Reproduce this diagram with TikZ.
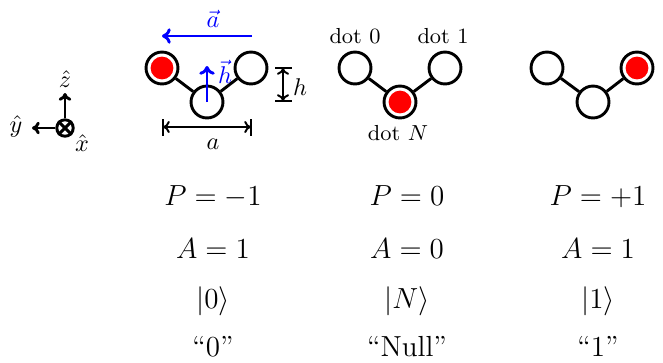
\documentclass[tikz,border=0pt]{standalone}
\usetikzlibrary{arrows.meta}
\begin{document}
\begin{tikzpicture}[x=0.4132pt,y=-0.4132pt,
  qdot/.style={circle,draw=black,line width=1.2pt,minimum size=13.2pt,inner sep=0pt},
  elec/.style={circle,fill=red,minimum size=9.4pt,inner sep=0pt},
  bond/.style={line width=1.2pt},
  vecarrow/.style={blue,line width=1.2pt,-{To[length=3.6pt,width=6.4pt]}},
  axarrow/.style={black,line width=1.2pt,-{To[length=3.2pt,width=5.2pt]}},
  dimline/.style={line width=0.8pt},
  dimarrow/.style={line width=0.8pt,{To[length=2.8pt,width=5pt]}-{To[length=2.8pt,width=5pt]}},
  lbl/.style={font=\small,inner sep=0pt},
  mlbl/.style={font=\normalsize,inner sep=0pt},
  row/.style={font=\large,anchor=base,inner sep=0pt}]
\useasboundingbox (0,0) rectangle (663,362);

% axes
\node[circle,draw,line width=1.2pt,minimum size=6.8pt,inner sep=0pt] (ox) at (65,128) {};
\draw[line width=1.2pt] (ox.45) -- (ox.225) (ox.135) -- (ox.315);
\coordinate (zt) at (65,93);
\coordinate (yt) at (32,128);
\draw[axarrow] (ox.north) -- (zt);
\draw[axarrow] (ox.west) -- (yt);
\node[mlbl] (zl) at (65,79) {$\hat z$};
\node[mlbl] (yl) at (16,126) {$\hat y$};
\node[mlbl] (xl) at (82,143) {$\hat x$};

% left molecule
\node[qdot] (L1) at (162,68) {};
\node[qdot] (B1) at (207,102) {};
\node[qdot] (R1) at (251,68) {};
\node[elec] (e1) at (L1.center) {};
\draw[bond] (L1) -- (B1) (B1) -- (R1);
\coordinate (a0) at (252,36);
\coordinate (a1) at (162,36);
\draw[vecarrow] (a0) -- (a1);
\node[mlbl,blue] (al) at (213,19) {$\vec a$};
\coordinate (ht) at (207,66);
\draw[vecarrow] (B1.center) -- (ht);
\node[mlbl,blue] (hl) at (225,72) {$\vec h$};
% h dimension
\coordinate (h0) at (283,68);
\coordinate (h1) at (283,101);
\draw[dimline] (275,68) -- (292,68) (275,101) -- (292,101);
\draw[dimarrow] (h0) -- (h1);
\node[mlbl] (hd) at (300,87) {$h$};
% a dimension
\coordinate (d0) at (163,127);
\coordinate (d1) at (251,127);
\draw[dimline] (163,119) -- (163,136) (251,119) -- (251,136);
\draw[dimarrow] (d0) -- (d1);
\node[mlbl] (ad) at (213,144) {$a$};

% middle molecule
\node[qdot] (L2) at (355,68) {};
\node[qdot] (B2) at (400,102) {};
\node[qdot] (R2) at (445,68) {};
\node[elec] (e2) at (B2.center) {};
\draw[bond] (L2) -- (B2) (B2) -- (R2);
\node[lbl] (d0l) at (355,36) {dot 0};
\node[lbl] (d1l) at (443,36) {dot 1};
\node[lbl] (dNl) at (398,133) {dot $N$};

% right molecule
\node[qdot] (L3) at (547,68) {};
\node[qdot] (B3) at (593,102) {};
\node[qdot] (R3) at (637,68) {};
\node[elec] (e3) at (R3.center) {};
\draw[bond] (L3) -- (B3) (B3) -- (R3);

% text rows
\node[row] (p1) at (213,205) {$P=-1$};
\node[row] (p2) at (407,205) {$P=0$};
\node[row] (p3) at (598,205) {$P=+1$};
\node[row] (q1) at (213,258) {$A=1$};
\node[row] (q2) at (407,258) {$A=0$};
\node[row] (q3) at (598,258) {$A=1$};
\node[row] (k1) at (213,308) {$|0\rangle$};
\node[row] (k2) at (407,308) {$|N\rangle$};
\node[row] (k3) at (598,308) {$|1\rangle$};
\node[row] (n1) at (213,356) {``0''};
\node[row] (n2) at (407,356) {``Null''};
\node[row] (n3) at (598,356) {``1''};
\end{tikzpicture}
\end{document}
